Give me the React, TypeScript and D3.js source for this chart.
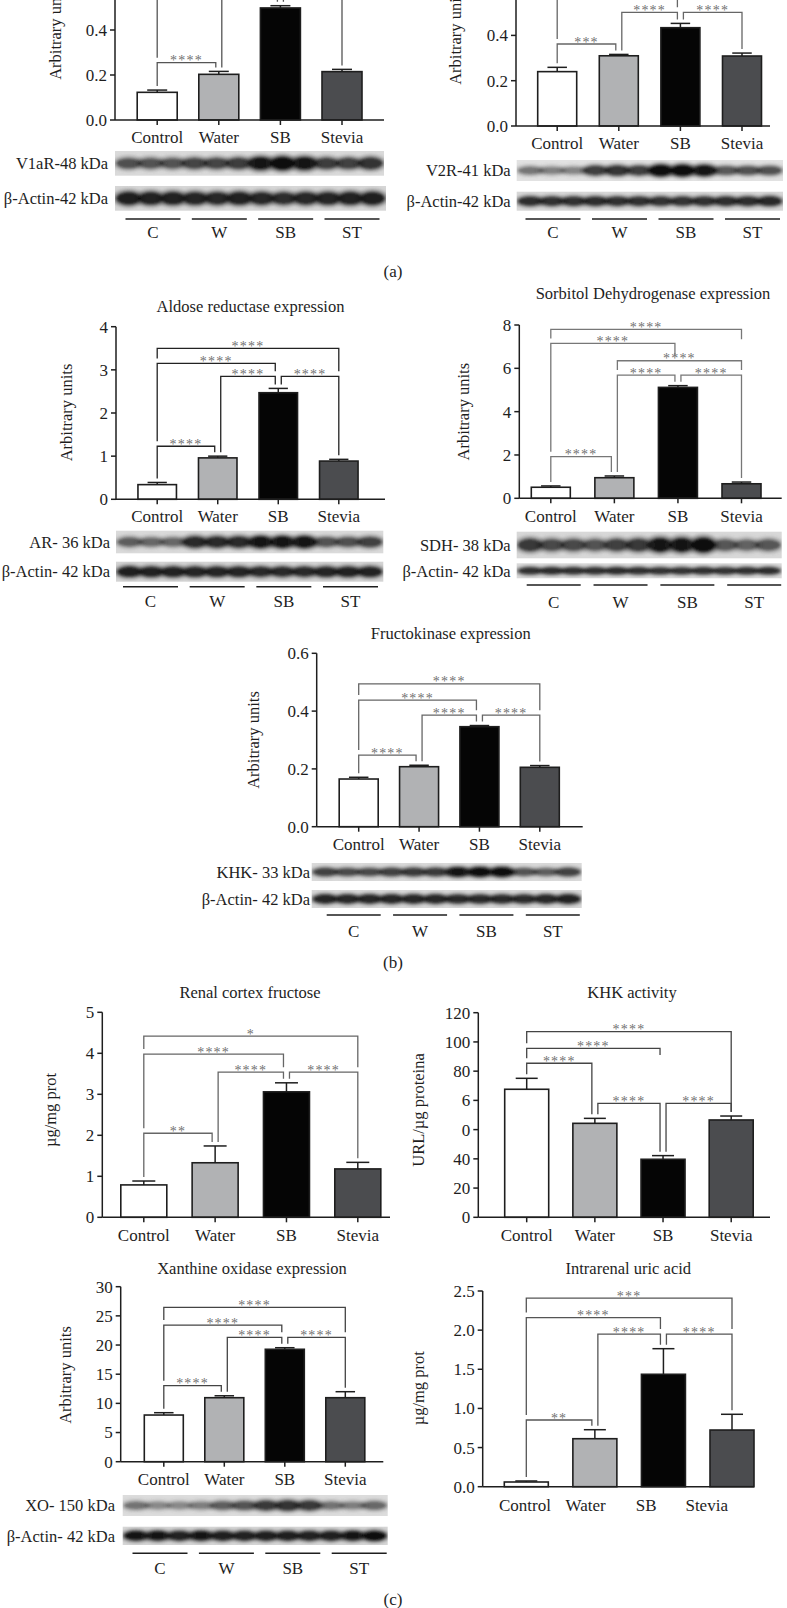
import React from "react";
import * as d3 from "d3";

// ---------- DATA ----------
const categories = ["Control", "Water", "SB", "Stevia"];
const groupCodes = ["C", "W", "SB", "ST"];
const barFills = ["#ffffff", "#b1b2b4", "#050505", "#4b4c4f"];

const v1arMean = [0.123, 0.203, 0.498, 0.215];
const v1arSem = [0.01, 0.013, 0.01, 0.01];
const v2rMean = [0.24, 0.31, 0.434, 0.309];
const v2rSem = [0.019, 0.006, 0.019, 0.013];
const arMean = [0.34, 0.96, 2.47, 0.886];
const arSem = [0.05, 0.04, 0.1, 0.04];
const sdhMean = [0.51, 0.95, 5.12, 0.67];
const sdhSem = [0.06, 0.08, 0.08, 0.08];
const khkExprMean = [0.165, 0.2076, 0.346, 0.2055];
const khkExprSem = [0.006, 0.005, 0.004, 0.006];
const fructoseMean = [0.79, 1.33, 3.06, 1.18];
const fructoseSem = [0.095, 0.41, 0.22, 0.16];
const khkActMean = [87.6, 64.3, 39.7, 66.6];
const khkActSem = [7.5, 3.4, 2.5, 2.7];
const xoMean = [8.0, 10.97, 19.27, 10.97];
const xoSem = [0.4, 0.33, 0.27, 1.03];
const uricMean = [0.06, 0.613, 1.436, 0.724];
const uricSem = [0.013, 0.115, 0.327, 0.201];

const ticks01 = [0, 0.2, 0.4, 0.6];
const ticksAR = [0, 1, 2, 3, 4];
const ticksSDH = [0, 2, 4, 6, 8];
const ticksFructose = [0, 1, 2, 3, 4, 5];
const ticksKhkAct = [0, 20, 40, 60, 80, 100, 120, 140];
const khkActTickLabels = ["0", "20", "40", "0", "6", "80", "100", "120"];
const ticksXO = [0, 5, 10, 15, 20, 25, 30];
const ticksUric = [0, 0.5, 1, 1.5, 2, 2.5];

type Sig = { a: number; b: number; y: number; label: string; endA?: number; endB?: number };
const v1arSig: Sig[] = [
  { a: 0, b: 1, y: 0.255, label: "****" },
  { a: 1, b: 2, y: 0.555, label: "****" },
  { a: 2, b: 3, y: 0.555, label: "****" },
  { a: 0, b: 2, y: 0.62, label: "****" },
  { a: 0, b: 3, y: 0.68, label: "****" },
];
const v2rSig: Sig[] = [
  { a: 0, b: 1, y: 0.362, label: "***" },
  { a: 1, b: 2, y: 0.502, label: "****" },
  { a: 2, b: 3, y: 0.502, label: "****" },
  { a: 0, b: 2, y: 0.6, label: "****" },
];
const arSig: Sig[] = [
  { a: 0, b: 1, y: 1.23, label: "****" },
  { a: 1, b: 2, y: 2.85, label: "****" },
  { a: 2, b: 3, y: 2.85, label: "****" },
  { a: 0, b: 2, y: 3.15, label: "****" },
  { a: 0, b: 3, y: 3.5, label: "****" },
];
const sdhSig: Sig[] = [
  { a: 0, b: 1, y: 1.92, label: "****" },
  { a: 1, b: 2, y: 5.69, label: "****" },
  { a: 2, b: 3, y: 5.69, label: "****" },
  { a: 1, b: 3, y: 6.35, label: "****" },
  { a: 0, b: 2, y: 7.15, label: "****" },
  { a: 0, b: 3, y: 7.8, label: "****", endB: 7.34 },
];
const khkExprSig: Sig[] = [
  { a: 0, b: 1, y: 0.248, label: "****" },
  { a: 1, b: 2, y: 0.386, label: "****" },
  { a: 2, b: 3, y: 0.386, label: "****" },
  { a: 0, b: 2, y: 0.438, label: "****" },
  { a: 0, b: 3, y: 0.494, label: "****" },
];
const fructoseSig: Sig[] = [
  { a: 0, b: 1, y: 2.05, label: "**" },
  { a: 1, b: 2, y: 3.54, label: "****" },
  { a: 2, b: 3, y: 3.54, label: "****" },
  { a: 0, b: 2, y: 3.98, label: "****" },
  { a: 0, b: 3, y: 4.42, label: "*" },
];
const khkActSig: Sig[] = [
  { a: 0, b: 1, y: 105.4, label: "****" },
  { a: 0, b: 2, y: 115.6, label: "****", endB: 111 },
  { a: 0, b: 3, y: 127, label: "****", endB: 72.3 },
  { a: 1, b: 2, y: 77.9, label: "****" },
  { a: 2, b: 3, y: 77.9, label: "****" },
];
const xoSig: Sig[] = [
  { a: 0, b: 1, y: 13.03, label: "****" },
  { a: 1, b: 2, y: 21.33, label: "****" },
  { a: 2, b: 3, y: 21.33, label: "****" },
  { a: 0, b: 2, y: 23.43, label: "****" },
  { a: 0, b: 3, y: 26.46, label: "****" },
];
const uricSig: Sig[] = [
  { a: 0, b: 1, y: 0.852, label: "**" },
  { a: 1, b: 2, y: 1.95, label: "****" },
  { a: 2, b: 3, y: 1.95, label: "****" },
  { a: 0, b: 2, y: 2.16, label: "****" },
  { a: 0, b: 3, y: 2.41, label: "***" },
];

// western blot lane intensities (12 lanes: 3 per group)
const v1arBands = [0.62, 0.6, 0.6, 0.68, 0.68, 0.72, 0.95, 1, 0.95, 0.72, 0.7, 0.78];
const actinA1Bands = [0.92, 0.9, 0.9, 0.88, 0.86, 0.9, 0.86, 0.82, 0.86, 0.88, 0.9, 0.92];
const v2rBands = [0.45, 0.4, 0.38, 0.72, 0.78, 0.72, 1, 1, 0.95, 0.58, 0.62, 0.62];
const actinA2Bands = [0.82, 0.8, 0.8, 0.82, 0.8, 0.8, 0.78, 0.78, 0.8, 0.82, 0.82, 0.85];
const arBands = [0.55, 0.5, 0.5, 0.85, 0.85, 0.85, 0.95, 0.95, 0.95, 0.6, 0.62, 0.7];
const actinB1Bands = [0.92, 0.9, 0.9, 0.88, 0.88, 0.88, 0.85, 0.85, 0.85, 0.88, 0.9, 0.9];
const sdhBands = [0.75, 0.65, 0.65, 0.6, 0.7, 0.75, 0.95, 0.95, 1, 0.58, 0.52, 0.58];
const actinB2Bands = [0.8, 0.82, 0.8, 0.8, 0.82, 0.8, 0.78, 0.78, 0.8, 0.78, 0.8, 0.82];
const khkBands = [0.7, 0.65, 0.65, 0.7, 0.75, 0.75, 0.95, 1, 1, 0.6, 0.55, 0.7];
const actinB3Bands = [0.88, 0.86, 0.86, 0.86, 0.86, 0.86, 0.85, 0.85, 0.85, 0.84, 0.86, 0.9];
const xoBands = [0.45, 0.35, 0.35, 0.4, 0.55, 0.6, 0.75, 0.78, 0.75, 0.45, 0.4, 0.5];
const actinC3Bands = [0.95, 0.95, 0.9, 0.95, 0.92, 0.9, 0.92, 0.92, 0.9, 0.92, 0.95, 1];

// ---------- RENDERING ----------
const FONT = "'Liberation Serif','Times New Roman',serif";
const INK = "#1e1e1e";
const FS = 17;
const FS_TITLE = 16.5;
const FS_LABEL = 16.5;

type Layout = {
  axisX: number; xEnd: number; base: number; topPx: number; ymax: number;
  ticks: number[]; tickLabels?: string[]; fmt?: string;
  centers: [number, number]; bw: number; catY: number; labelRange?: [number, number];
  xTicks?: boolean; title?: string; titleX?: number; titleY?: number;
  yLabel: string; yLabelX: number; yLabelY: number; lineColor: string;
};

function BarPanel({ L, mean, sem, sig }: { L: Layout; mean: number[]; sem: number[]; sig: Sig[] }) {
  const y = d3.scaleLinear().domain([0, L.ymax]).range([L.base, L.topPx]);
  const xs = d3.scalePoint<string>().domain(categories).range(L.centers);
  const xl = L.labelRange ? d3.scalePoint<string>().domain(categories).range(L.labelRange) : xs;
  const fmt = L.fmt ? d3.format(L.fmt) : (v: number) => String(v);
  const errTop = mean.map((m, i) => y(m + sem[i]));
  const isA = categories.map((_, i) => sig.some((s) => s.a === i));
  const isB = categories.map((_, i) => sig.some((s) => s.b === i));
  const off = (i: number, side: string) => (isA[i] && isB[i] ? (side === "a" ? 3 : -3) : 0);
  const br = sig.map((s) => ({
    ...s,
    xa: (xs(categories[s.a]) as number) + off(s.a, "a"),
    xb: (xs(categories[s.b]) as number) + off(s.b, "b"),
    yl: y(s.y),
  }));
  const legEnd = (b: any, x: number, i: number, ov?: number) => {
    if (ov != null) return y(ov);
    let end = errTop[i] - 4;
    for (const o of br) {
      if (o !== b && o.yl > b.yl + 0.5 && x >= o.xa - 0.5 && x <= o.xb + 0.5) end = Math.min(end, o.yl - 5);
    }
    return end;
  };
  return (
    <g>
      {L.title && (
        <text x={L.titleX} y={L.titleY} textAnchor="middle" fontSize={FS_TITLE} fill={INK}>{L.title}</text>
      )}
      <text transform={`translate(${L.yLabelX},${L.yLabelY}) rotate(-90)`} textAnchor="middle" dy="0.35em" fontSize={FS_LABEL} fill={INK}>
        {L.yLabel}
      </text>
      {categories.map((c, i) => {
        const cx = xs(c) as number;
        const top = y(mean[i]);
        return (
          <g key={c}>
            <rect x={cx - L.bw / 2} y={top} width={L.bw} height={L.base - top} fill={barFills[i]} stroke={INK} strokeWidth={1.6} />
            <line x1={cx} x2={cx} y1={top} y2={errTop[i]} stroke={INK} strokeWidth={1.5} />
            <line x1={cx - L.bw * 0.25} x2={cx + L.bw * 0.25} y1={errTop[i]} y2={errTop[i]} stroke={INK} strokeWidth={1.5} />
          </g>
        );
      })}
      <line x1={L.axisX} x2={L.axisX} y1={L.base} y2={L.topPx} stroke={INK} strokeWidth={1.5} />
      <line x1={L.axisX} x2={L.xEnd} y1={L.base} y2={L.base} stroke={INK} strokeWidth={1.5} />
      {L.ticks.filter((t) => y(t) > 0).map((t) => (
        <g key={t}>
          <line x1={L.axisX - 5} x2={L.axisX} y1={y(t)} y2={y(t)} stroke={INK} strokeWidth={1.5} />
          <text x={L.axisX - 8} y={y(t)} dy="0.35em" textAnchor="end" fontSize={FS} fill={INK}>
            {L.tickLabels ? L.tickLabels[L.ticks.indexOf(t)] : fmt(t)}
          </text>
        </g>
      ))}
      {categories.map((c) => (
        <g key={"x" + c}>
          {L.xTicks !== false && (
            <line x1={xs(c)} x2={xs(c)} y1={L.base} y2={L.base + 5} stroke={INK} strokeWidth={1.5} />
          )}
          <text x={xl(c)} y={L.catY} textAnchor="middle" fontSize={FS} fill={INK}>{c}</text>
        </g>
      ))}
      {br.map((b, k) => {
        const ea = legEnd(b, b.xa, b.a, b.endA);
        const eb = legEnd(b, b.xb, b.b, b.endB);
        return (
          <g key={"s" + k}>
            <path d={`M${b.xa},${ea}V${b.yl}H${b.xb}V${eb}`} fill="none" stroke={L.lineColor} strokeWidth={1.3} />
            {b.yl > 4 && (
              <text x={(b.xa + b.xb) / 2} y={b.yl + 2.5} textAnchor="middle" fontSize={14} letterSpacing={1.2} fill="#707070">
                {b.label}
              </text>
            )}
          </g>
        );
      })}
    </g>
  );
}

type BlotRow = { label: string; x0: number; x1: number; y0: number; y1: number; bands: number[]; bg: string };
type BlotLayout = { rows: BlotRow[]; labelX: number; lineY: number; centers: [number, number]; segW: number; labelY: number; id: string };

function Blots({ B }: { B: BlotLayout }) {
  const gx = d3.scalePoint<string>().domain(groupCodes).range(B.centers);
  return (
    <g>
      {B.rows.map((r, ri) => {
        const lanes = d3.scaleBand<number>().domain(d3.range(12)).range([r.x0 + 2, r.x1 - 2]).padding(0.05);
        const h = r.y1 - r.y0;
        const cid = `clip-${B.id}-${ri}`;
        return (
          <g key={ri}>
            <defs>
              <clipPath id={cid}><rect x={r.x0} y={r.y0} width={r.x1 - r.x0} height={h} /></clipPath>
            </defs>
            <rect x={r.x0} y={r.y0} width={r.x1 - r.x0} height={h} fill={r.bg} />
            <g clipPath={`url(#${cid})`}>
              <g filter="url(#blotBlur)">
                {r.bands.map((v, i) => (
                  <ellipse key={"h" + i} cx={(lanes(i) as number) + lanes.bandwidth() / 2} cy={r.y0 + h / 2}
                    rx={lanes.bandwidth() * 0.78} ry={h * (0.24 + 0.16 * v)} fill="#555" opacity={0.45 * v} />
                ))}
                {r.bands.map((v, i) => (
                  <ellipse key={i} cx={(lanes(i) as number) + lanes.bandwidth() / 2} cy={r.y0 + h / 2}
                    rx={lanes.bandwidth() * 0.6} ry={h * (0.12 + 0.16 * v)} fill="#111" opacity={v} />
                ))}
              </g>
            </g>
            <text x={B.labelX} y={r.y0 + h / 2} dy="0.35em" textAnchor="end" fontSize={FS_LABEL} fill={INK}>{r.label}</text>
          </g>
        );
      })}
      {groupCodes.map((g) => {
        const cx = gx(g) as number;
        return (
          <g key={g}>
            <line x1={cx - B.segW / 2} x2={cx + B.segW / 2} y1={B.lineY} y2={B.lineY} stroke={INK} strokeWidth={1.5} />
            <text x={cx} y={B.labelY} textAnchor="middle" fontSize={FS} fill={INK}>{g}</text>
          </g>
        );
      })}
    </g>
  );
}

const LA1: Layout = { axisX: 115, xEnd: 384, base: 120, topPx: -15, ymax: 0.6, ticks: ticks01, fmt: ".1f", centers: [157.2, 342], bw: 40, catY: 143, yLabel: "Arbitrary units", yLabelX: 55, yLabelY: 31, lineColor: "#555" };
const LA2: Layout = { axisX: 516, xEnd: 770, base: 126, topPx: -9.9, ymax: 0.6, ticks: ticks01, fmt: ".1f", centers: [557.2, 742], bw: 39, catY: 149, yLabel: "Arbitrary units", yLabelX: 455, yLabelY: 36, lineColor: "#666" };
const LB1: Layout = { axisX: 116, xEnd: 385, base: 499.3, topPx: 326.7, ymax: 4, ticks: ticksAR, centers: [157.2, 338.8], bw: 38.5, catY: 521.7, title: "Aldose reductase expression", titleX: 250.5, titleY: 312, yLabel: "Arbitrary units", yLabelX: 66.7, yLabelY: 412.5, lineColor: "#222" };
const LB2: Layout = { axisX: 519.3, xEnd: 781.7, base: 498.3, topPx: 325, ymax: 8, ticks: ticksSDH, centers: [550.8, 741.5], bw: 39, catY: 521.7, title: "Sorbitol Dehydrogenase expression", titleX: 653, titleY: 298.5, yLabel: "Arbitrary units", yLabelX: 463.3, yLabelY: 411.7, lineColor: "#777" };
const LB3: Layout = { axisX: 316.7, xEnd: 582.7, base: 826.7, topPx: 653.3, ymax: 0.6, ticks: ticks01, fmt: ".1f", centers: [358.7, 539.8], bw: 39, catY: 850, title: "Fructokinase expression", titleX: 450.7, titleY: 639, yLabel: "Arbitrary units", yLabelX: 253.3, yLabelY: 740, lineColor: "#666" };
const LC1: Layout = { axisX: 102.3, xEnd: 390, base: 1217.3, topPx: 1012.3, ymax: 5, ticks: ticksFructose, centers: [143.8, 357.8], bw: 46, catY: 1241, title: "Renal cortex fructose", titleX: 250, titleY: 998, yLabel: "µg/mg prot", yLabelX: 50, yLabelY: 1110, lineColor: "#666" };
const LC2: Layout = { axisX: 478.3, xEnd: 770, base: 1217.3, topPx: 1012.7, ymax: 140, ticks: ticksKhkAct, tickLabels: khkActTickLabels, centers: [526.7, 731.2], bw: 44, catY: 1241, title: "KHK activity", titleX: 632, titleY: 998, yLabel: "URL/µg proteina", yLabelX: 418.3, yLabelY: 1110, lineColor: "#444" };
const LC3: Layout = { axisX: 120.7, xEnd: 383.3, base: 1461.7, topPx: 1286.7, ymax: 30, ticks: ticksXO, centers: [163.8, 345.3], bw: 39, catY: 1485, title: "Xanthine oxidase expression", titleX: 252, titleY: 1274, yLabel: "Arbitrary units", yLabelX: 65, yLabelY: 1375, lineColor: "#444" };
const LC4: Layout = { axisX: 482.7, xEnd: 754, base: 1486.7, topPx: 1291, ymax: 2.5, ticks: ticksUric, fmt: ".1f", centers: [526.3, 732], bw: 44, catY: 1511, labelRange: [525, 706.7], xTicks: false, title: "Intrarenal uric acid", titleX: 628.3, titleY: 1274, yLabel: "µg/mg prot", yLabelX: 418.3, yLabelY: 1388.3, lineColor: "#555" };

const BA1: BlotLayout = { id: "a1", rows: [
  { label: "V1aR-48 kDa", x0: 115, x1: 384, y0: 151, y1: 175.7, bands: v1arBands, bg: "#dadada" },
  { label: "β-Actin-42 kDa", x0: 115, x1: 386, y0: 186, y1: 210.7, bands: actinA1Bands, bg: "#d6d6d6" },
], labelX: 108, lineY: 219, centers: [153, 352], segW: 55, labelY: 238 };
const BA2: BlotLayout = { id: "a2", rows: [
  { label: "V2R-41 kDa", x0: 516.7, x1: 783, y0: 160, y1: 181, bands: v2rBands, bg: "#e2e2e2" },
  { label: "β-Actin-42 kDa", x0: 516.7, x1: 783, y0: 191.7, y1: 210.7, bands: actinA2Bands, bg: "#d8d8d8" },
], labelX: 510.7, lineY: 219, centers: [553, 752.5], segW: 55, labelY: 238 };
const BB1: BlotLayout = { id: "b1", rows: [
  { label: "AR- 36 kDa", x0: 116, x1: 383.3, y0: 530.7, y1: 553.3, bands: arBands, bg: "#dadada" },
  { label: "β-Actin- 42 kDa", x0: 116, x1: 383.3, y0: 561.7, y1: 581.7, bands: actinB1Bands, bg: "#d4d4d4" },
], labelX: 110, lineY: 586.7, centers: [150.5, 350.5], segW: 55, labelY: 607 };
const BB2: BlotLayout = { id: "b2", rows: [
  { label: "SDH- 38 kDa", x0: 516.7, x1: 781.7, y0: 531.7, y1: 558.3, bands: sdhBands, bg: "#d8d8d8" },
  { label: "β-Actin- 42 kDa", x0: 516.7, x1: 781.7, y0: 563.3, y1: 578.3, bands: actinB2Bands, bg: "#dadada" },
], labelX: 510.7, lineY: 585, centers: [553.7, 754.2], segW: 54, labelY: 608 };
const BB3: BlotLayout = { id: "b3", rows: [
  { label: "KHK- 33 kDa", x0: 311.7, x1: 581.7, y0: 863, y1: 881, bands: khkBands, bg: "#dadada" },
  { label: "β-Actin- 42 kDa", x0: 311.7, x1: 581.7, y0: 890, y1: 908, bands: actinB3Bands, bg: "#d8d8d8" },
], labelX: 310, lineY: 915, centers: [353.7, 552.8], segW: 54, labelY: 937 };
const BC3: BlotLayout = { id: "c3", rows: [
  { label: "XO- 150 kDa", x0: 122.7, x1: 387.7, y0: 1495, y1: 1516, bands: xoBands, bg: "#dcdcdc" },
  { label: "β-Actin- 42 kDa", x0: 122.7, x1: 387.7, y0: 1526.7, y1: 1545, bands: actinC3Bands, bg: "#d6d6d6" },
], labelX: 115, lineY: 1553.3, centers: [160, 359.2], segW: 55, labelY: 1574 };

export default function App() {
  return (
    <svg width={787} height={1608} style={{ position: "absolute", left: 0, top: 0, background: "#fff" }} fontFamily={FONT}>
      <defs>
        <filter id="blotBlur" x="-10%" y="-50%" width="120%" height="200%">
          <feGaussianBlur stdDeviation="1.8" />
        </filter>
      </defs>
      <rect width={787} height={1608} fill="#fff" />
      <BarPanel L={LA1} mean={v1arMean} sem={v1arSem} sig={v1arSig} />
      <Blots B={BA1} />
      <BarPanel L={LA2} mean={v2rMean} sem={v2rSem} sig={v2rSig} />
      <Blots B={BA2} />
      <text x={393} y={277} textAnchor="middle" fontSize={FS} fill={INK}>(a)</text>

      <BarPanel L={LB1} mean={arMean} sem={arSem} sig={arSig} />
      <Blots B={BB1} />
      <BarPanel L={LB2} mean={sdhMean} sem={sdhSem} sig={sdhSig} />
      <Blots B={BB2} />
      <BarPanel L={LB3} mean={khkExprMean} sem={khkExprSem} sig={khkExprSig} />
      <Blots B={BB3} />
      <text x={393} y={968} textAnchor="middle" fontSize={FS} fill={INK}>(b)</text>

      <BarPanel L={LC1} mean={fructoseMean} sem={fructoseSem} sig={fructoseSig} />
      <BarPanel L={LC2} mean={khkActMean} sem={khkActSem} sig={khkActSig} />
      <BarPanel L={LC3} mean={xoMean} sem={xoSem} sig={xoSig} />
      <Blots B={BC3} />
      <BarPanel L={LC4} mean={uricMean} sem={uricSem} sig={uricSig} />
      <text x={393} y={1605} textAnchor="middle" fontSize={FS} fill={INK}>(c)</text>
    </svg>
  );
}
